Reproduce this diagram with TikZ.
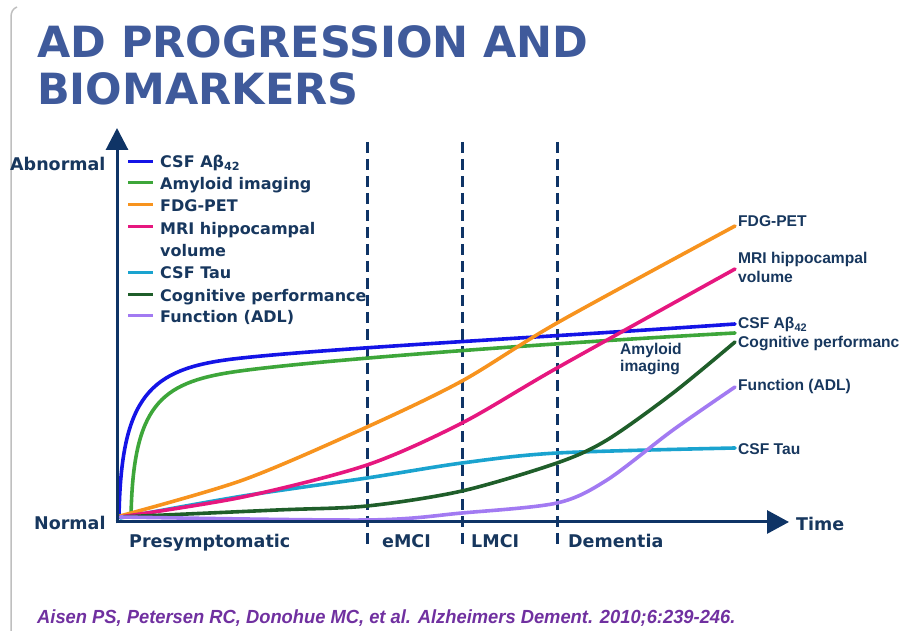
\documentclass[tikz,border=0pt]{standalone}
\usepackage{fontspec}
\setmainfont{DejaVu Sans}
\newfontfamily\arialfont{Liberation Sans}
\usetikzlibrary{arrows.meta, positioning}

\definecolor{navy}{HTML}{17375E}
\definecolor{axisblue}{HTML}{0F3466}
\definecolor{titleblue}{HTML}{3F5A9B}
\definecolor{abblue}{HTML}{1414E6}
\definecolor{amygreen}{HTML}{3DA63A}
\definecolor{fdgorange}{HTML}{F7931E}
\definecolor{mrimagenta}{HTML}{E6177F}
\definecolor{taucyan}{HTML}{1AA3CF}
\definecolor{coggreen}{HTML}{1F5E2A}
\definecolor{adlpurple}{HTML}{A27AF2}
\definecolor{citepurple}{HTML}{7030A0}

\begin{document}
\begin{tikzpicture} [x = 1pt, y = 1pt,
  title/.style = {anchor = base west, inner sep = 0pt, text = titleblue,
    font = \bfseries\fontsize{43}{48}\selectfont},
  axislabel/.style = {anchor = base west, inner sep = 0pt, text = navy,
    font = \bfseries\fontsize{17.5}{20}\selectfont},
  legendlabel/.style = {anchor = base west, inner sep = 0pt, text = navy,
    font = \bfseries\fontsize{16}{22}\selectfont},
  endlabel/.style = {anchor = base west, inner sep = 0pt, text = navy, align = left,
    font = \arialfont\bfseries\fontsize{15.6}{19.5}\selectfont},
  curve/.style = {line width = 3.6pt, line cap = round},
  key/.style = {line width = 3pt},
  phase/.style = {draw = axisblue, line width = 3pt, dash pattern = on 11pt off 6pt}]

\useasboundingbox (0,0) rectangle (899,631);

% slide frame
\draw [black!25, line width = 1.5pt] (11,0) -- (11,614) to [out = 90, in = 200] (17,624);

\node (title1) [title] at (37,573) {AD PROGRESSION AND};
\node (title2) [title] at (37,526) {BIOMARKERS};

% stages
\coordinate (emci) at (367,489);
\coordinate (lmci) at (462,489);
\coordinate (dem) at (557,489);
\draw [phase] (emci) -- (emci |- 0,81);
\draw [phase] (lmci) -- (lmci |- 0,81);
\draw [phase] (dem) -- (dem |- 0,81);

% curves
\draw [curve, abblue] (119,114) .. controls (121,235) and (150,262) .. (233,272)
  .. controls (316,282) and (550,294) .. (735,307);
\draw [curve, amygreen] (119,115) -- (131,114) .. controls (133,225) and (160,248) .. (233,259)
  .. controls (306,270) and (550,288) .. (735,298);
\draw [curve, fdgorange] plot [smooth] coordinates {(120,115) (243,151) (367,204) (462,250)
  (557,308) (735,405)};
\draw [curve, taucyan] plot [smooth] coordinates {(120,113) (243,135) (367,153) (462,168)
  (557,178) (735,183)};
\draw [curve, mrimagenta] plot [smooth] coordinates {(120,114) (243,134) (367,166) (462,208)
  (557,263) (735,362)};
\draw [curve, coggreen] plot [smooth] coordinates {(120,114) (277,121) (367,125) (462,140)
  (557,168) (607,191) (673,238) (735,289)};
\draw [curve, adlpurple] plot [smooth] coordinates {(120,114) (367,111) (462,118) (557,128)
  (607,151) (673,201) (735,244)};

% axes
\coordinate (origin) at (117,109);
\coordinate (ytip) at (117,503);
\coordinate (xtip) at (789,109);
\draw [axisblue, line width = 3pt, -{Triangle[width = 22pt, length = 22pt]}]
  ([yshift = -1.5pt]origin) -- (ytip);
\draw [axisblue, line width = 3pt, -{Triangle[width = 23pt, length = 22pt]}]
  ([xshift = -1.5pt]origin) -- (xtip);

\node (abnormal) [axislabel] at (10,460) {Abnormal};
\node (normal) [axislabel] at (34,101) {Normal};
\node (time) [axislabel] at (796,100) {Time};

\node (presym) [axislabel] at (129,83) {Presymptomatic};
\node (emcilabel) [axislabel] at (382,83) {eMCI};
\node (lmcilabel) [axislabel] at (471,83) {LMCI};
\node (demlabel) [axislabel] at (568,83) {Dementia};

% legend
\draw [key, abblue] (128,469) -- (153,469);
\draw [key, amygreen] (128,448) -- (153,448);
\draw [key, fdgorange] (128,426) -- (153,426);
\draw [key, mrimagenta] (128,404) -- (153,404);
\draw [key, taucyan] (128,358) -- (153,358);
\draw [key, coggreen] (128,336) -- (153,336);
\draw [key, adlpurple] (128,315) -- (153,315);
\node (leg1) [legendlabel] at (160,463) {CSF Aβ\textsubscript{42}};
\node (leg2) [legendlabel] at (160,441) {Amyloid imaging};
\node (leg3) [legendlabel] at (160,419) {FDG-PET};
\node (leg4) [legendlabel] at (160,396) {MRI hippocampal};
\node (leg4b) [legendlabel] at (160,374) {volume};
\node (leg5) [legendlabel] at (160,352) {CSF Tau};
\node (leg6) [legendlabel] at (160,329) {Cognitive performance};
\node (leg7) [legendlabel] at (160,308) {Function (ADL)};

% curve ends
\node (endfdg) [endlabel] at (738,404) {FDG-PET};
\node (endmri) [endlabel] at (738,367) {MRI hippocampal};
\node (endmrib) [endlabel] at (738,348) {volume};
\node (endab) [endlabel] at (738,302) {CSF Aβ\textsubscript{42}};
\node (endcog) [endlabel] at (738,283) {Cognitive performance};
\node (endadl) [endlabel] at (738,240) {Function (ADL)};
\node (endtau) [endlabel] at (738,176) {CSF Tau};
\node (amyimg) [endlabel] at (620,276) {Amyloid};
\node (amyimgb) [endlabel] at (620,259) {imaging};

\node (cite) [anchor = base west, inner sep = 0pt, text = citepurple,
  font = \arialfont\bfseries\itshape\fontsize{19}{22}\selectfont] at (37,7)
  {\scalebox{0.965}[1]{Aisen PS, Petersen RC, Donohue MC, et al. Alzheimers Dement. 2010;6:239-246.}};

\end{tikzpicture}
\end{document}
